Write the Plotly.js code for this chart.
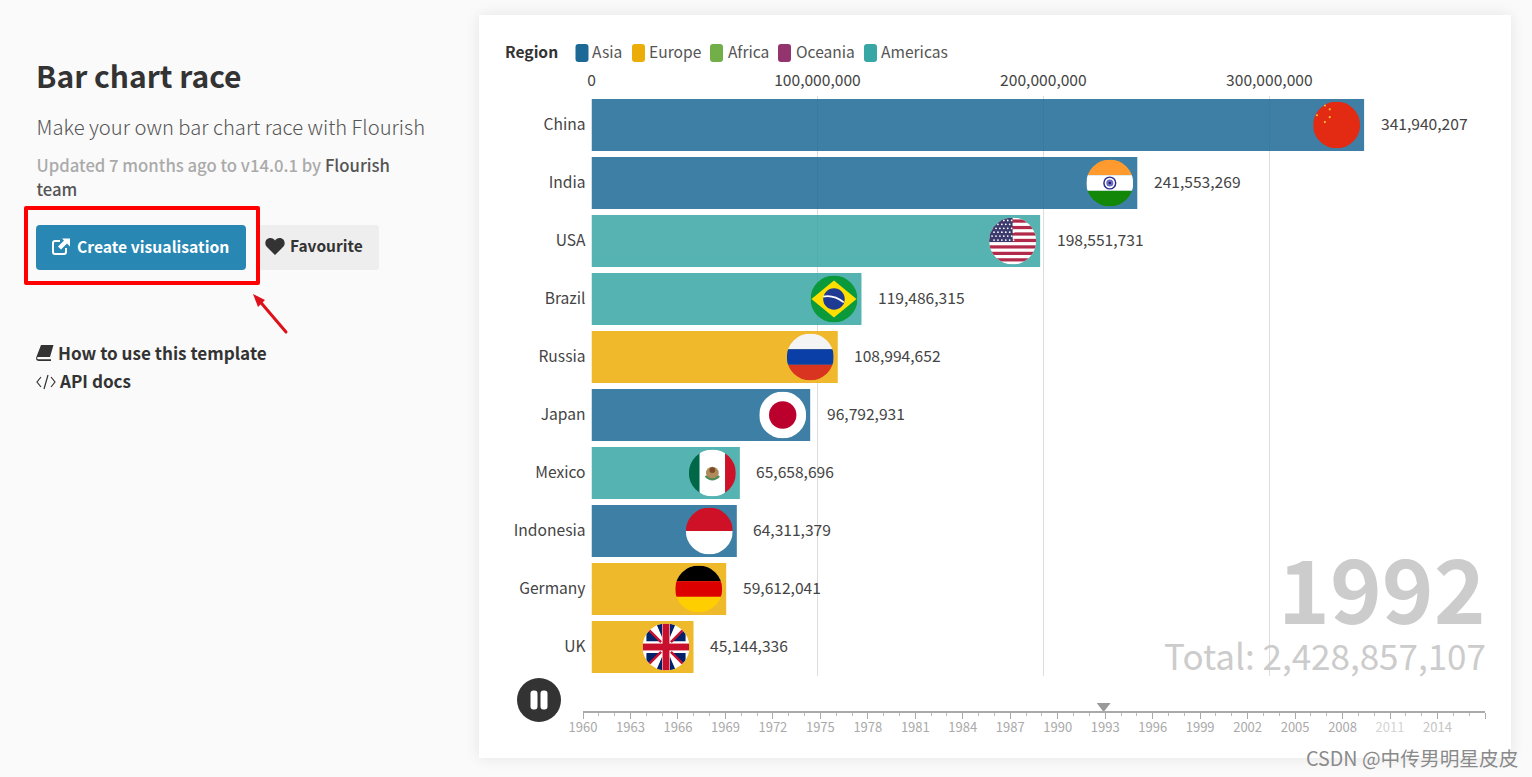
<!DOCTYPE html>
<html><head><meta charset="utf-8">
<script src="https://cdn.plot.ly/plotly-3.0.1.min.js"></script>
<style>
html,body{margin:0;padding:0;width:1532px;height:777px;overflow:hidden;background:#fafafa;font-family:"Noto Sans CJK SC","Noto Sans",sans-serif;color:#333}
.a{position:absolute;white-space:nowrap;line-height:1}
#card{position:absolute;left:479px;top:15px;width:1032px;height:743px;background:#fff;box-shadow:0 0 14px rgba(0,0,0,.09)}
#chart{position:absolute;left:0;top:0;width:1032px;height:743px}
</style></head><body>
<div class="a" style="left:36px;top:60px;font-size:30px;font-weight:700;color:#333">Bar chart race</div>
<div class="a" style="left:36.500px;top:117px;font-size:20.200px;font-weight:300;color:#555">Make your own bar chart race with Flourish</div>
<div class="a" style="left:36.500px;top:157px;font-size:16.700px;font-weight:500;color:#aaa">Updated 7 months ago to v14.0.1 by <span style="color:#555">Flourish</span></div>
<div class="a" style="left:36.500px;top:181px;font-size:16.700px;font-weight:500;color:#555">team</div>
<div class="a" style="left:259px;top:225px;width:120px;height:45px;background:#eee;border-radius:3px"></div>
<div class="a" style="left:36px;top:225px;width:210px;height:45px;background:#2887b3;border-radius:4px"></div>
<svg class="a" style="left:51px;top:237px" width="21" height="20" viewBox="0 0 21 20"><path d="M15 11v4a2 2 0 0 1-2 2H4a2 2 0 0 1-2-2V6a2 2 0 0 1 2-2h5" fill="none" stroke="#fff" stroke-width="2"/><path d="M7 12 16 3M11 1.500h8v8l-3-3-6 6-3-3 6-6z" fill="#fff"/></svg>
<div class="a" style="left:77px;top:239px;font-size:15.700px;font-weight:700;color:#fff">Create visualisation</div>
<svg class="a" style="left:265px;top:237px" width="20" height="18" viewBox="0 0 20 18"><path d="M10 18 1.500 9.500C-1 6.500.5 1 5.500 1 7.500 1 9 2 10 3.500 11 2 12.500 1 14.500 1c5 0 6.500 5.500 4 8.500z" fill="#333"/></svg>
<div class="a" style="left:290px;top:238px;font-size:15.500px;font-weight:700;color:#333">Favourite</div>
<div class="a" style="left:24px;top:206px;width:228px;height:71px;border:4px solid #f00;border-radius:2px"></div>
<svg class="a" style="left:245px;top:285px" width="50" height="55"><path d="M41 47 12 13" stroke="#e0101a" stroke-width="3" stroke-linecap="round"/><path d="M8 9 20 15 13 22z" fill="#e0101a"/></svg>
<svg class="a" style="left:36px;top:345px" width="18" height="16" viewBox="0 0 18 16"><path d="M5 0h12.500l-3.500 12H2.500C1 12 .5 13 1 13.500s1 .8 2 .8h12V16H3C1 16 0 15 0 13z" fill="#333"/></svg>
<div class="a" style="left:58px;top:344px;font-size:17.100px;font-weight:700;color:#333">How to use this template</div>
<svg class="a" style="left:36px;top:374px" width="20" height="16" viewBox="0 0 20 16"><path d="M5 3 1 8l4 5M15 3l4 5-4 5M12 1 8 15" fill="none" stroke="#333" stroke-width="1.200"/></svg>
<div class="a" style="left:60px;top:372px;font-size:17.100px;font-weight:700;color:#333">API docs</div>
<div id="card">
  <div id="chart"></div>
  <svg class="a" style="left:38px;top:663px" width="44" height="44"><circle cx="22" cy="22" r="22" fill="#333"/><rect x="13.500" y="12.500" width="7" height="19" rx="3" fill="#fff"/><rect x="23.500" y="12.500" width="7" height="19" rx="3" fill="#fff"/></svg>
</div>
<div class="a" style="left:1306px;top:748px;font-size:19.700px;color:#8a8a8a;text-shadow:0 0 1px #fff">CSDN @中传男明星皮皮</div>
<script>
// ---- data ----
const countries = ["China","India","USA","Brazil","Russia","Japan","Mexico","Indonesia","Germany","UK"];
const populations = [341940207,241553269,198551731,119486315,108994652,96792931,65658696,64311379,59612041,45144336];
const countryRegions = ["Asia","Asia","Americas","Americas","Europe","Asia","Americas","Asia","Europe","Europe"];
const regions = ["Asia","Europe","Africa","Oceania","Americas"];
const regionColors = ["#1D6996","#EDAD08","#73AF48","#94346E","#38A6A5"];
const axisTicks = [0,100000000,200000000,300000000];
const axisTickLabels = ["0","100,000,000","200,000,000","300,000,000"];
const timelineYears = [1960,1963,1966,1969,1972,1975,1978,1981,1984,1987,1990,1993,1996,1999,2002,2005,2008,2011,2014,2017];
const timelineLabels = ["1960","1963","1966","1969","1972","1975","1978","1981","1984","1987","1990","1993","1996","1999","2002","2005","2008",
  '<span style="color:#d4d4d4">2011</span>','<span style="color:#c4c4c4">2014</span>',""];
const timelinePosition = [1992.9];
const yearText = "1992";
const totalText = "Total: 2,428,857,107";
// ------------------------------------

const W=1032,H=743,OX=479,OY=15;
const fx=p=>(p-OX)/W, fy=p=>1-(p-OY)/H;
const FONT='"Noto Sans CJK SC","Noto Sans",sans-serif';

function uri(body){
  const s='<svg xmlns="http://www.w3.org/2000/svg" viewBox="0 0 48 48"><defs><clipPath id="c"><circle cx="24" cy="24" r="24"/></clipPath></defs><g clip-path="url(#c)">'+body+'</g></svg>';
  return 'data:image/svg+xml;base64,'+btoa(s);
}
function r(x,y,w,h,f){return `<rect x="${x}" y="${y}" width="${w}" height="${h}" fill="${f}"/>`;}
function usFlag(){
  let s=r(0,0,48,48,'#fff');
  for(let i=0;i<7;i++) s+=r(0,2+i*6.6,48,3.3,'#b22a4a');
  s+=r(0,0,24,25,'#3c3b6e');
  for(let j=0;j<6;j++)for(let i=0;i<6;i++) s+=`<circle cx="${3+i*4+(j%2)*2}" cy="${3+j*4}" r="0.9" fill="#fff"/>`;
  return s;
}
const flags={
 China:r(0,0,48,48,'#e22b12')+[[12,4,1.1],[17,8,1.1],[4,14,1.1],[17,16,1.1],[12,21,1.1]].map(p=>`<circle cx="${p[0]}" cy="${p[1]}" r="${p[2]}" fill="#ffc42e"/>`).join(''),
 India:r(0,0,48,16,'#ff9a2e')+r(0,16,48,16,'#fff')+r(0,32,48,16,'#138808')+'<circle cx="24" cy="24" r="6" fill="none" stroke="#2a2a8e" stroke-width="1.500"/><circle cx="24" cy="24" r="3.600" fill="#6a6ac0"/><circle cx="24" cy="24" r="1.200" fill="#1c1c70"/>',
 USA:usFlag(),
 Brazil:r(0,0,48,48,'#0a9a3c')+'<path d="M24 5 47 24 24 43 1 24z" fill="#fedf00"/><circle cx="24" cy="24" r="11" fill="#1f3a93"/><path d="M13 21.500q11-2 21 6" stroke="#fff" stroke-width="1.800" fill="none"/>',
 Russia:r(0,0,48,16,'#f4f4f4')+r(0,16,48,16,'#0a3fa8')+r(0,32,48,16,'#d9341f'),
 Japan:r(0,0,48,48,'#fff')+'<circle cx="24" cy="24" r="14" fill="#bc002d"/>',
 Mexico:r(0,0,11,48,'#006847')+r(11,0,26,48,'#fff')+r(37,0,11,48,'#ce1126')+'<circle cx="24" cy="24" r="6.500" fill="#b08a5a"/><path d="M17 27q7 7 14 0" stroke="#4d8a57" stroke-width="2" fill="none"/><circle cx="24" cy="21" r="3" fill="#7a4d28"/>',
 Indonesia:r(0,0,48,24,'#ce1126')+r(0,24,48,24,'#fff'),
 Germany:r(0,0,48,16,'#000')+r(0,16,48,16,'#dd0000')+r(0,32,48,16,'#ffce00'),
 UK:r(0,0,48,48,'#fff')+'<path d="M0 0 48 48M48 0 0 48" stroke="#fff" stroke-width="8"/>'+'<path d="M4 6 19 18H4zM44 6 29 18h15zM4 42 19 30H4zM44 42 29 30h15z" fill="#012169"/><path d="M14 0 20 0 20 14zM34 0 28 0 28 14zM14 48 20 48 20 34zM34 48 28 48 28 34z" fill="#012169"/>'+'<path d="M0 0 19 19M48 0 29 19M0 48 19 29M48 48 29 29" stroke="#c8102e" stroke-width="2.500"/>'+r(20.500,0,7,48,'#c8102e')+r(0,20.500,48,7,'#c8102e')
};

const bars=regions.map((reg,k)=>{
  const idx=countries.map((c,i)=>i).filter(i=>countryRegions[i]===reg);
  return {type:'bar',orientation:'h',name:reg,x:idx.map(i=>populations[i]),y:idx.map(i=>countries[i]),
    marker:{color:regionColors[k],line:{width:0}},opacity:0.85,showlegend:false,hoverinfo:'x+y',xaxis:'x',yaxis:'y'};
});
const pointer={type:'scatter',mode:'markers',x:timelinePosition,y:[0.5],xaxis:'x2',yaxis:'y2',showlegend:false,
  marker:{symbol:'triangle-down',size:12,color:'#9a9a9a',line:{width:0}},hoverinfo:'x'};

const pxPerUnit=(1484-591.5)/395000000;
const flagSize=47;
const images=countries.map((c,i)=>({source:uri(flags[c]),xref:'x',yref:'y',x:populations[i]-4/pxPerUnit,y:i,
  sizex:flagSize/pxPerUnit,sizey:flagSize/58,xanchor:'right',yanchor:'middle',sizing:'stretch',layer:'above'}));

const valueLabels=countries.map((c,i)=>({xref:'x',yref:'y',x:populations[i],y:i,text:populations[i].toLocaleString('en-US'),
  xanchor:'left',yanchor:'middle',xshift:14.500,yshift:2,showarrow:false,font:{family:FONT,size:15.600,color:'#444'}}));

const swatchX=[575.5,632,710,778,864], labelX=[592,649,728,796,881];
const legendShapes=regions.map((reg,k)=>{
  const x0=fx(swatchX[k]),x1=fx(swatchX[k]+13),y0=fy(62),y1=fy(44),rx=3/W,ry=3/H;
  return {type:'path',xref:'paper',yref:'paper',line:{width:0},fillcolor:regionColors[k],
    path:`M${x0+rx},${y0} L${x1-rx},${y0} Q${x1},${y0} ${x1},${y0+ry} L${x1},${y1-ry} Q${x1},${y1} ${x1-rx},${y1} L${x0+rx},${y1} Q${x0},${y1} ${x0},${y1-ry} L${x0},${y0+ry} Q${x0},${y0} ${x0+rx},${y0} Z`};
});
const legendLabels=regions.map((reg,k)=>({xref:'paper',yref:'paper',x:fx(labelX[k]),y:fy(51),text:reg,xanchor:'left',yanchor:'middle',
  showarrow:false,xshift:-2,font:{family:FONT,size:15.600,color:'#555'}}));

const layout={
  width:W,height:H,margin:{l:0,r:0,t:0,b:0,pad:0},paper_bgcolor:'rgba(0,0,0,0)',plot_bgcolor:'rgba(0,0,0,0)',
  barmode:'overlay',bargap:0.1,showlegend:false,hovermode:'closest',
  font:{family:FONT,color:'#444',size:16},
  xaxis:{domain:[fx(591.5),fx(1484)],range:[0,395000000],side:'top',anchor:'y',tickmode:'array',tickvals:axisTicks,ticktext:axisTickLabels,
    tickfont:{family:FONT,size:15.600,color:'#444'},ticks:'',ticklabelstandoff:6,showgrid:true,gridcolor:'#dddddd',gridwidth:1,zeroline:false,showline:false,fixedrange:true},
  yaxis:{domain:[fy(676),fy(96)],type:'category',categoryorder:'array',categoryarray:countries,range:[9.5,-0.5],anchor:'x',
    tickfont:{family:FONT,size:15.600,color:'#444'},ticks:'',ticklabelstandoff:5,showgrid:false,zeroline:false,showline:false,fixedrange:true},
  xaxis2:{domain:[fx(583),fx(1485)],range:[1960,2017],anchor:'y2',side:'bottom',tickmode:'array',tickvals:timelineYears,ticktext:timelineLabels,
    tickfont:{family:FONT,size:13,color:'#aaaaaa'},ticks:'outside',ticklen:6,tickwidth:1,tickcolor:'#aaaaaa',ticklabelstandoff:-2,showline:true,linecolor:'#aaaaaa',linewidth:1.500,
    showgrid:false,zeroline:false,fixedrange:true,
    minor:{ticks:'outside',ticklen:3,tickwidth:1,tickcolor:'#bbbbbb',tick0:1960,dtick:1,showgrid:false}},
  yaxis2:{domain:[fy(711),fy(701)],range:[0,1],anchor:'x2',visible:false,fixedrange:true},
  images:images,
  shapes:legendShapes,
  annotations:[
    {xref:'paper',yref:'paper',x:fx(505),y:fy(51),text:'<b>Region</b>',xanchor:'left',yanchor:'middle',xshift:-2,showarrow:false,font:{family:FONT,size:15.600,color:'#333'}},
    ...legendLabels,...valueLabels,
    {xref:'paper',yref:'paper',x:fx(1486),y:fy(585),text:'<b>'+yearText+'</b>',xanchor:'right',yanchor:'middle',xshift:2,showarrow:false,font:{family:FONT,size:88,color:'#cccccc'}},
    {xref:'paper',yref:'paper',x:fx(1486),y:fy(654),text:totalText,xanchor:'right',yanchor:'middle',xshift:2,showarrow:false,font:{family:FONT,size:35,color:'#cccccc'}}
  ]
};
Plotly.newPlot('chart',[...bars,pointer],layout,{displayModeBar:false,responsive:false});
</script>
</body></html>
